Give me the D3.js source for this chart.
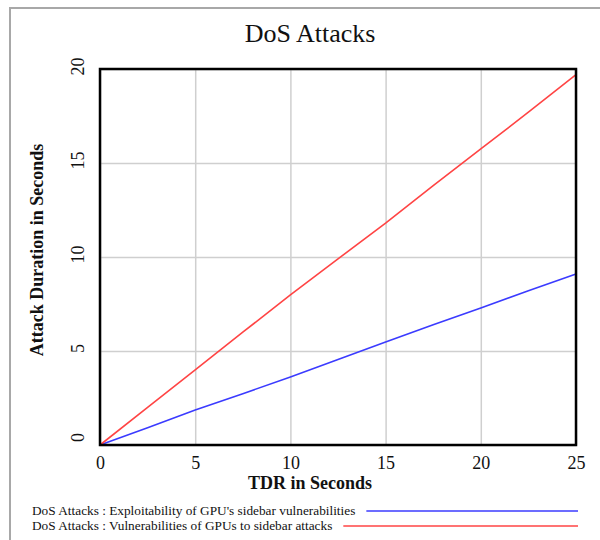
<!DOCTYPE html>
<html>
<head>
<meta charset="utf-8">
<script src="https://cdn.jsdelivr.net/npm/d3@7"></script>
<style>
  body { margin: 0; background: #fff; }
  text { font-family: "Liberation Serif", "Times New Roman", serif; fill: #111; }
</style>
</head>
<body>
<div id="chart"></div>
<script>
// values
const tdr = [0, 2.5, 5, 7.5, 10, 12.5, 15, 17.5, 20, 22.5, 25];
const exploitability = [0, 0.92, 1.86, 2.73, 3.62, 4.55, 5.48, 6.4, 7.29, 8.2, 9.1];
const vulnerabilities = [0, 2.0, 4.0, 6.0, 7.98, 9.9, 11.8, 13.8, 15.75, 17.7, 19.7];
const xTicks = [0, 5, 10, 15, 20, 25];
const yTicks = [0, 5, 10, 15, 20];
const seriesNames = [
  'DoS Attacks : Exploitability of GPU\'s sidebar vulnerabilities',
  'DoS Attacks : Vulnerabilities of GPUs to sidebar attacks'
];
const seriesColors = ['#3b3bff', '#ff4444'];

const width = 600;
const height = 540;
const plot = {left: 100, right: 576, top: 69, bottom: 445};

const svg = d3.select('#chart')
    .append('svg')
    .attr('width', width)
    .attr('height', height);

// outer frame (only top and left edges visible)
svg.append('path')
    .attr('d', `M10,${height} L10,8 L${width},8`)
    .attr('fill', 'none')
    .attr('stroke', '#a8a8a8')
    .attr('stroke-width', 2);

const x = d3.scaleLinear().domain([0, 25]).range([plot.left, plot.right]);
const y = d3.scaleLinear().domain([0, 20]).range([plot.bottom, plot.top]);

// grid
svg.append('g')
    .attr('transform', `translate(0,${plot.bottom})`)
    .call(d3.axisBottom(x).tickValues(xTicks).tickSize(-(plot.bottom - plot.top)).tickFormat(''))
    .call((g) => g.select('.domain').remove())
    .call((g) => g.selectAll('line').attr('stroke', '#cfcfcf').attr('stroke-width', 1.5));
svg.append('g')
    .attr('transform', `translate(${plot.left},0)`)
    .call(d3.axisLeft(y).tickValues(yTicks).tickSize(-(plot.right - plot.left)).tickFormat(''))
    .call((g) => g.select('.domain').remove())
    .call((g) => g.selectAll('line').attr('stroke', '#cfcfcf').attr('stroke-width', 1.5));

// tick labels
svg.append('g')
    .attr('transform', `translate(0,${plot.bottom})`)
    .call(d3.axisBottom(x).tickValues(xTicks).tickSize(0).tickPadding(11))
    .call((g) => g.select('.domain').remove())
    .call((g) => g.selectAll('text')
        .attr('font-size', 18)
        .attr('font-family', '"Liberation Serif", serif')
        .attr('fill', '#111'));
svg.append('g')
    .attr('transform', `translate(${plot.left},0)`)
    .call(d3.axisLeft(y).tickValues(yTicks).tickSize(0))
    .call((g) => g.select('.domain').remove())
    .call((g) => g.selectAll('text')
        .attr('font-size', 18)
        .attr('font-family', '"Liberation Serif", serif')
        .attr('fill', '#111')
        .attr('x', null)
        .attr('dy', null)
        .attr('text-anchor', 'middle')
        .attr('transform', (d) => `translate(-16,${d === 0 ? -8 : -3}) rotate(-90)`));

// series
const line = (vals) => d3.line()
    .x((d, i) => x(tdr[i]))
    .y((d) => y(d))(vals);

[exploitability, vulnerabilities].forEach((vals, i) => {
  svg.append('path')
      .attr('d', line(vals))
      .attr('fill', 'none')
      .attr('stroke', seriesColors[i])
      .attr('stroke-width', 1.6);
});

// plot border
svg.append('rect')
    .attr('x', plot.left)
    .attr('y', plot.top)
    .attr('width', plot.right - plot.left)
    .attr('height', plot.bottom - plot.top)
    .attr('fill', 'none')
    .attr('stroke', '#000')
    .attr('stroke-width', 2.5);

// titles
svg.append('text')
    .attr('x', 310)
    .attr('y', 42)
    .attr('text-anchor', 'middle')
    .attr('font-size', 26)
    .text('DoS Attacks');

svg.append('text')
    .attr('x', 310)
    .attr('y', 489)
    .attr('text-anchor', 'middle')
    .attr('font-size', 18)
    .attr('font-weight', 'bold')
    .text('TDR in Seconds');

svg.append('text')
    .attr('transform', 'translate(43,250) rotate(-90)')
    .attr('text-anchor', 'middle')
    .attr('font-size', 18)
    .attr('font-weight', 'bold')
    .text('Attack Duration in Seconds');

// legend
const legend = svg.append('g');
seriesNames.forEach((name, i) => {
  const ty = 515 + i * 15;
  const t = legend.append('text')
      .attr('x', 32)
      .attr('y', ty)
      .attr('font-size', 13.3)
      .text(name);
  const end = 32 + t.node().getComputedTextLength();
  legend.append('line')
      .attr('x1', end + 11)
      .attr('x2', 578)
      .attr('y1', ty - 4)
      .attr('y2', ty - 4)
      .attr('stroke', seriesColors[i])
      .attr('stroke-width', 1.6);
});
</script>
</body>
</html>
